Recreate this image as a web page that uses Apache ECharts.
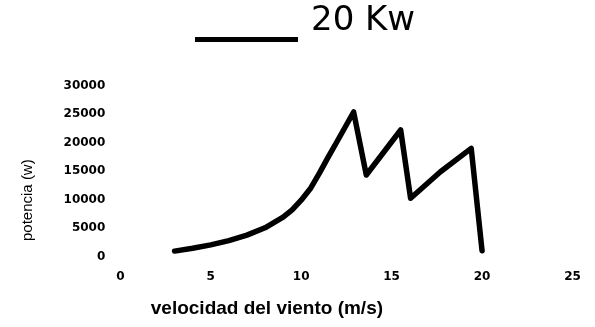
<!DOCTYPE html>
<html>
<head>
<meta charset="utf-8">
<script src="https://cdn.jsdelivr.net/npm/echarts@6/dist/echarts.min.js"></script>
<style>
html,body{margin:0;padding:0;background:#fff;}
#chart{width:595px;height:327px;}
</style>
</head>
<body>
<div id="chart"></div>
<script>
var seriesName = '20 Kw';
var speed = [3, 4, 5, 6, 7, 8, 9, 9.5, 10, 10.5, 11, 11.5, 12, 12.9, 13.6, 15.5, 16.05, 17.7, 19.4, 20];
var power = [950, 1450, 2050, 2800, 3750, 5050, 6900, 8200, 9900, 11900, 14600, 17500, 20300, 25400, 14320, 22230, 10230, 14900, 19010, 1000];
var xTicks = [0, 5, 10, 15, 20, 25];
var yTicks = [0, 5000, 10000, 15000, 20000, 25000, 30000];
var xName = 'velocidad del viento (m/s)';
var yName = 'potencia (w)';

var points = speed.map(function (v, i) { return [v, power[i]]; });

var chart = echarts.init(document.getElementById('chart'), null, {renderer: 'canvas'});
chart.setOption({
  animation: false,
  backgroundColor: '#ffffff',
  legend: {
    left: 195,
    top: 0,
    padding: 0,
    itemWidth: 103,
    itemHeight: 42,
    symbolKeepAspect: false,
    itemStyle: {borderWidth: 0},
    data: [{
      name: seriesName,
      icon: 'path://M0,0L100,0L100,0.1L0,0.1Z M0,88L100,88L100,100L0,100Z'
    }],
    textStyle: {
      fontFamily: 'DejaVu Sans',
      fontSize: 34,
      color: '#000',
      padding: [7, 0, 0, 8]
    }
  },
  grid: {left: 120.3, right: 22.5, top: 85.8, bottom: 70.5, containLabel: false},
  xAxis: {
    type: 'value',
    min: xTicks[0],
    max: xTicks[xTicks.length - 1],
    interval: 5,
    name: xName,
    nameLocation: 'middle',
    nameGap: 43,
    nameTextStyle: {
      fontFamily: 'Liberation Sans',
      fontWeight: 'bold',
      fontSize: 19,
      color: '#000',
      padding: [0, 159, 0, 0]
    },
    axisLine: {show: false},
    axisTick: {show: false},
    splitLine: {show: false},
    axisLabel: {
      margin: 14,
      fontFamily: 'DejaVu Sans',
      fontWeight: 'bold',
      fontSize: 12,
      color: '#000',
      formatter: function (v) { return String(v); }
    }
  },
  yAxis: {
    type: 'value',
    min: yTicks[0],
    max: yTicks[yTicks.length - 1],
    interval: 5000,
    name: yName,
    nameLocation: 'middle',
    nameGap: 85,
    nameTextStyle: {
      fontFamily: 'Liberation Sans',
      fontSize: 15,
      color: '#000',
      padding: [0, 58, 0, 0]
    },
    axisLine: {show: false},
    axisTick: {show: false},
    splitLine: {show: false},
    axisLabel: {
      margin: 15,
      fontFamily: 'DejaVu Sans',
      fontWeight: 'bold',
      fontSize: 12,
      color: '#000',
      formatter: function (v) { return String(v); }
    }
  },
  series: [{
    name: seriesName,
    type: 'line',
    data: points,
    showSymbol: false,
    symbol: 'none',
    smooth: false,
    itemStyle: {color: '#000'},
    lineStyle: {color: '#000', width: 5.5, cap: 'round', join: 'round'}
  }]
});
</script>
</body>
</html>
